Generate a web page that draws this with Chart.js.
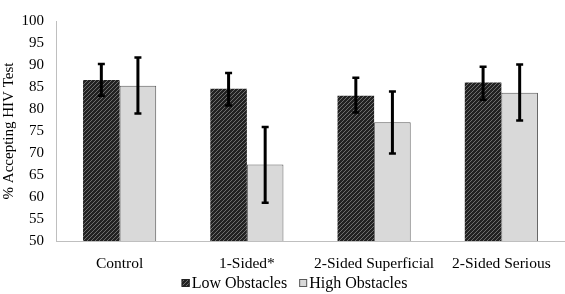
<!DOCTYPE html>
<html><head><meta charset="utf-8">
<script src="https://cdn.jsdelivr.net/npm/chart.js@4"></script>
<style>html,body{margin:0;padding:0;background:#fff}</style>
</head><body>
<canvas id="c" width="565" height="294"></canvas>
<script>
const categories = ["Control", "1-Sided*", "2-Sided Superficial", "2-Sided Serious"];
const seriesNames = ["Low Obstacles", "High Obstacles"];
const lowValues = [86.6, 84.6, 83.0, 86.0];
const lowErrLow = [83.0, 80.8, 79.2, 82.1];
const lowErrHigh = [90.2, 88.2, 87.1, 89.6];
const highValues = [85.3, 67.4, 77.0, 83.7];
const highErrLow = [79.0, 58.7, 69.9, 77.4];
const highErrHigh = [91.7, 75.9, 84.0, 90.1];
const yTicks = [50, 55, 60, 65, 70, 75, 80, 85, 90, 95, 100];

const FONT = '"Liberation Serif", "Times New Roman", serif';

function makePattern() {
  const p = document.createElement('canvas');
  p.width = 4; p.height = 4;
  const g = p.getContext('2d');
  g.fillStyle = '#222222';
  g.fillRect(0, 0, 4, 4);
  g.fillStyle = '#6e6e6e';
  for (let i = 0; i < 4; i++) g.fillRect(i, 3 - i, 1, 1);
  return document.getElementById('c').getContext('2d').createPattern(p, 'repeat');
}
const pat = makePattern();
const fills = [pat, '#d9d9d9'];
const strokes = ['#222222', '#595959'];

const errorBars = {
  id: 'errorBars',
  afterDatasetsDraw(chart) {
    const ctx = chart.ctx;
    const y = chart.scales.y;
    const sets = [[lowErrLow, lowErrHigh], [highErrLow, highErrHigh]];
    ctx.save();
    ctx.strokeStyle = '#000';
    sets.forEach((s, di) => {
      const meta = chart.getDatasetMeta(di);
      meta.data.forEach((el, i) => {
        const x = el.x;
        const yl = y.getPixelForValue(s[0][i]);
        const yh = y.getPixelForValue(s[1][i]);
        ctx.lineWidth = 3;
        ctx.beginPath();
        ctx.moveTo(x, yl); ctx.lineTo(x, yh);
        ctx.stroke();
        ctx.lineWidth = 2.5;
        ctx.beginPath();
        ctx.moveTo(x - 3.5, yl); ctx.lineTo(x + 3.5, yl);
        ctx.moveTo(x - 3.5, yh); ctx.lineTo(x + 3.5, yh);
        ctx.stroke();
      });
    });
    ctx.restore();
  }
};

const customLegend = {
  id: 'customLegend',
  afterDraw(chart) {
    const ctx = chart.ctx;
    ctx.save();
    ctx.font = '16px ' + FONT;
    ctx.textBaseline = 'middle';
    ctx.fillStyle = '#000';
    const box = 8, gap = 2, spacing = 12;
    const widths = seriesNames.map(n => box + gap + ctx.measureText(n).width);
    const total = widths.reduce((a, b) => a + b, 0) + spacing;
    let x = 294.5 - total / 2;
    const yc = 283;
    seriesNames.forEach((n, i) => {
      ctx.fillStyle = fills[i];
      ctx.fillRect(x, yc - box / 2, box, box);
      ctx.strokeStyle = strokes[i];
      ctx.lineWidth = 1;
      ctx.strokeRect(x + 0.5, yc - box / 2 + 0.5, box - 1, box - 1);
      ctx.fillStyle = '#000';
      ctx.fillText(n, x + box + gap, yc + 1);
      x += widths[i] + spacing;
    });
    ctx.restore();
  }
};

Chart.defaults.font.family = FONT;
Chart.defaults.color = '#000';

new Chart(document.getElementById('c'), {
  type: 'bar',
  data: {
    labels: categories,
    datasets: [
      { label: seriesNames[0], data: lowValues, backgroundColor: fills[0], borderWidth: 0,
        categoryPercentage: 0.575, barPercentage: 1.0 },
      { label: seriesNames[1], data: highValues, backgroundColor: fills[1], borderColor: strokes[1], borderWidth: 1,
        categoryPercentage: 0.575, barPercentage: 1.0 }
    ]
  },
  options: {
    responsive: false,
    animation: false,
    devicePixelRatio: 1,
    layout: { padding: { top: 5, left: 0, right: 0, bottom: 0 } },
    plugins: {
      tooltip: { enabled: false },
      legend: { display: false }
    },
    scales: {
      x: {
        grid: { display: false, drawTicks: false },
        border: { color: '#bfbfbf', width: 1 },
        ticks: { font: { size: 15.5 }, padding: 14, color: '#000' },
        afterFit(s) { s.height = 53; }
      },
      y: {
        min: 50, max: 100,
        afterBuildTicks(s) { s.ticks = yTicks.map(v => ({ value: v })); },
        grid: { display: false, drawTicks: false },
        border: { color: '#bfbfbf', width: 1 },
        ticks: { font: { size: 15 }, padding: 12, color: '#000' },
        title: { display: true, text: '% Accepting HIV Test', font: { size: 15 }, padding: 0, color: '#000' },
        afterFit(s) { s.width = 56; }
      }
    }
  },
  plugins: [errorBars, customLegend]
});
</script>
</body></html>
